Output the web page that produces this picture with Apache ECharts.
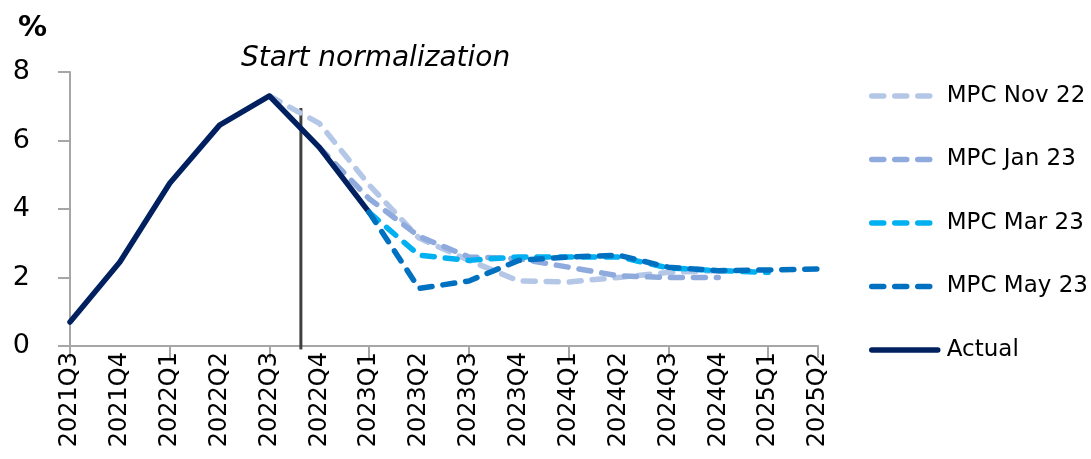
<!DOCTYPE html>
<html>
<head>
<meta charset="utf-8">
<script src="https://cdn.jsdelivr.net/npm/echarts@6/dist/echarts.min.js"></script>
<style>html,body{margin:0;padding:0;background:#fff}#c{width:1091px;height:459px}</style>
</head>
<body>
<div id="c"></div>
<script>
var categories = ['2021Q3','2021Q4','2022Q1','2022Q2','2022Q3','2022Q4','2023Q1','2023Q2','2023Q3','2023Q4','2024Q1','2024Q2','2024Q3','2024Q4','2025Q1','2025Q2'];
var actual = [0.7, 2.45, 4.75, 6.45, 7.3, 5.8, 3.9, null, null, null, null, null, null, null, null, null];
var mpcNov22 = [null, null, null, null, 7.3, 6.5, 4.7, 3.15, 2.5, 1.9, 1.87, 2.0, 2.15, 2.2, null, null];
var mpcJan23 = [null, null, null, null, null, 5.8, 4.3, 3.2, 2.6, 2.55, 2.3, 2.05, 2.0, 2.0, null, null];
var mpcMar23 = [null, null, null, null, null, null, 3.9, 2.65, 2.5, 2.6, 2.6, 2.6, 2.28, 2.2, 2.15, null];
var mpcMay23 = [null, null, null, null, null, null, 3.9, 1.68, 1.9, 2.5, 2.6, 2.65, 2.3, 2.2, 2.22, 2.25];
var yTicks = [0, 2, 4, 6, 8];
var normalizationAt = 4.63;       // position between 2022Q3 and 2022Q4 (category index)
var normalizationRange = [-0.1, 6.95];

var FONT = 'DejaVu Sans';
var dash = [12, 11];
var LW = 5.5;
function fc(name, data, color) {
  return {
    name: name, type: 'line', data: data, symbol: 'none', connectNulls: false,
    lineStyle: { color: color, width: LW, type: dash, cap: 'round', join: 'round' },
    itemStyle: { color: color }
  };
}
var chart = echarts.init(document.getElementById('c'));
chart.setOption({
  animation: false,
  grid: { left: 70, right: 273, top: 72, bottom: 113, containLabel: false },
  title: [
    { text: '%', left: 13, top: 9, textStyle: { fontFamily: FONT, fontSize: 29, fontWeight: 'bold', color: '#000' } },
    { text: 'Start normalization', left: 236, top: 40, textStyle: { fontFamily: FONT, fontSize: 28, fontStyle: 'italic', fontWeight: 'normal', color: '#000' } }
  ],
  legend: {
    orient: 'vertical', left: 864, top: 77,
    itemWidth: 66, itemHeight: 14, itemGap: 35.5,
    itemStyle: { opacity: 0 },
    lineStyle: { width: LW, type: dash, cap: 'round' },
    textStyle: { fontFamily: FONT, fontSize: 23, color: '#000', lineHeight: 28, padding: [0, 0, 0, 4] },
    data: ['MPC Nov 22', 'MPC Jan 23', 'MPC Mar 23', 'MPC May 23',
      { name: 'Actual', lineStyle: { type: 'solid', width: LW, cap: 'round' } }]
  },
  xAxis: [{
    type: 'category', data: categories, boundaryGap: false,
    axisLine: { lineStyle: { color: '#a6a6a6', width: 2 } },
    axisTick: { interval: 1, length: 12, lineStyle: { color: '#a6a6a6', width: 2 } },
    axisLabel: { interval: 0, rotate: 90, margin: 6, fontFamily: FONT, fontSize: 24, color: '#000' },
    splitLine: { show: false }
  }, {
    type: 'value', min: 0, max: categories.length - 1, show: false
  }],
  yAxis: {
    type: 'value', min: yTicks[0], max: yTicks[yTicks.length - 1], interval: 2,
    axisLine: { show: true, lineStyle: { color: '#a6a6a6', width: 2 } },
    axisTick: { show: true, length: 12, lineStyle: { color: '#a6a6a6', width: 2 } },
    axisLabel: { margin: 40, fontFamily: FONT, fontSize: 27, color: '#000' },
    splitLine: { show: false }
  },
  series: [
    {
      name: 'normalization', type: 'line', xAxisIndex: 1, symbol: 'none', clip: false, silent: true,
      data: [[normalizationAt, normalizationRange[0]], [normalizationAt, normalizationRange[1]]],
      lineStyle: { color: '#404040', width: 3 }, z: 1
    },
    fc('MPC Nov 22', mpcNov22, '#b4c7e7'),
    fc('MPC Jan 23', mpcJan23, '#8faadc'),
    {
      name: 'Actual', type: 'line', data: actual, symbol: 'none',
      lineStyle: { color: '#002060', width: LW, cap: 'round', join: 'round' },
      itemStyle: { color: '#002060' }
    },
    fc('MPC Mar 23', mpcMar23, '#00b0f0'),
    fc('MPC May 23', mpcMay23, '#0070c0')
  ]
});
</script>
</body>
</html>
